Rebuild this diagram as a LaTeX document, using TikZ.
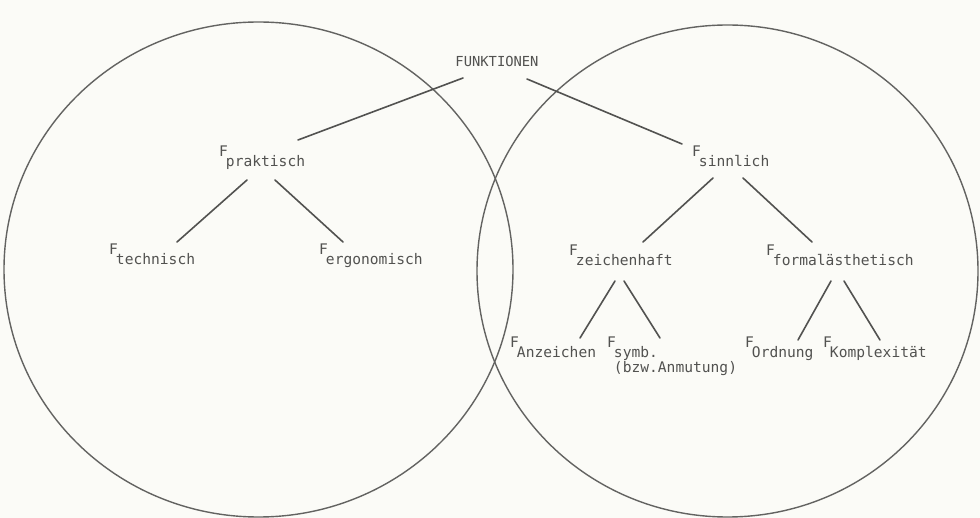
\documentclass[tikz,border=0pt]{standalone}
\usepackage{fontspec}
\setmonofont{DejaVu Sans Mono}
\usepackage{tikz}
\usetikzlibrary{positioning}
\definecolor{paper}{RGB}{251,251,247}
\definecolor{ink}{RGB}{82,82,80}
\tikzset{
  set_circle/.style={draw=ink!90, line width=1.4pt},
  tree_line/.style={-, draw=ink, line width=1.6pt, line cap=round},
  func_node/.style={inner sep=0pt, anchor=base west, text=ink, font=\ttfamily\fontsize{14.6}{16}\selectfont},
  title_node/.style={inner sep=0pt, text=ink, font=\ttfamily\fontsize{13.8}{16}\selectfont}
}
\newcommand{\Fsub}[1]{F\kern-2pt\raisebox{-10pt}{#1}}

\begin{document}
\begin{tikzpicture}[x=1pt, y=-1pt]

  % Frame
  \fill[paper] (0,0) rectangle (980,518);
  \useasboundingbox (0,0) rectangle (980,518);

  % Sets
  \draw[set_circle] (258.5,269.5) ellipse [x radius=254.5pt, y radius=247.5pt];
  \draw[set_circle] (727.5,271) ellipse [x radius=250.5pt, y radius=246pt];

  % Root
  \node[title_node] (funk) at (497,61) {FUNKTIONEN};

  % First level
  \node[func_node] (prak) at (219,157) {\Fsub{praktisch}};
  \node[func_node] (sinn) at (692,157) {\Fsub{sinnlich}};

  % Second level
  \node[func_node] (tech) at (109,255) {\Fsub{technisch}};
  \node[func_node] (ergo) at (319,255) {\Fsub{ergonomisch}};
  \node[func_node] (zeich) at (569,256) {\Fsub{zeichenhaft}};
  \node[func_node] (form) at (766,256) {\Fsub{formalästhetisch}};

  % Third level
  \node[func_node] (anz) at (510,348) {\Fsub{Anzeichen}};
  \node[func_node] (symb) at (607,348) {\Fsub{\begin{tabular}[t]{@{}l@{}}symb.\\[-1pt](bzw.Anmutung)\end{tabular}}};
  \node[func_node] (ord) at (745,348) {\Fsub{Ordnung}};
  \node[func_node] (kompl) at (823,348) {\Fsub{Komplexität}};

  % Branches
  \draw[tree_line] ([shift={(-34,17)}]funk.center) -- ([shift={(79,-17)}]prak.base west);
  \draw[tree_line] ([shift={(30,18)}]funk.center) -- ([shift={(-10,-13)}]sinn.base west);
  \draw[tree_line] ([shift={(28,23)}]prak.base west) -- ([shift={(68,-13)}]tech.base west);
  \draw[tree_line] ([shift={(56,23)}]prak.base west) -- ([shift={(24,-13)}]ergo.base west);
  \draw[tree_line] ([shift={(21,21)}]sinn.base west) -- ([shift={(74,-14)}]zeich.base west);
  \draw[tree_line] ([shift={(51,21)}]sinn.base west) -- ([shift={(46,-14)}]form.base west);
  \draw[tree_line] ([shift={(46,25)}]zeich.base west) -- ([shift={(70,-10)}]anz.base west);
  \draw[tree_line] ([shift={(55,25)}]zeich.base west) -- ([shift={(53,-10)}]symb.base west);
  \draw[tree_line] ([shift={(65,25)}]form.base west) -- ([shift={(53,-8)}]ord.base west);
  \draw[tree_line] ([shift={(78,25)}]form.base west) -- ([shift={(57,-8)}]kompl.base west);

\end{tikzpicture}
\end{document}
